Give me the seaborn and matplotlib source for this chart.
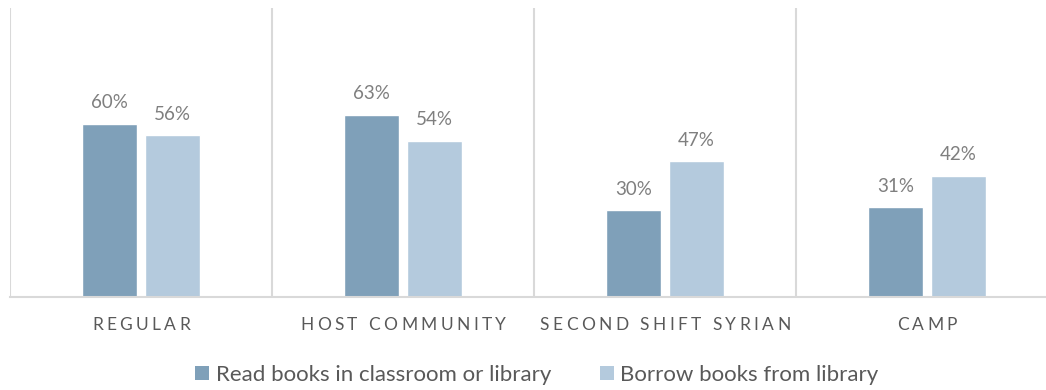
import matplotlib
matplotlib.use("Agg")
import matplotlib.pyplot as plt
from matplotlib.patches import Patch
import seaborn as sns
import pandas as pd

# Chart data
categories = ["REGULAR", "HOST COMMUNITY", "SECOND SHIFT SYRIAN", "CAMP"]
series_names = ["Read books in classroom or library", "Borrow books from library"]
read_books = [60, 63, 30, 31]
borrow_books = [56, 54, 47, 42]

colors = ["#7FA0B9", "#B4CADD"]
grid_color = "#D9D9D9"
label_color = "#7F7F7F"
text_color = "#595959"
font = "Lato"

sns.set_theme(style="white")
plt.rcParams["font.family"] = [font, "DejaVu Sans"]

df = pd.DataFrame({
    "category": categories * 2,
    "series": [series_names[0]] * 4 + [series_names[1]] * 4,
    "value": read_books + borrow_books,
})

W, H = 1046, 390
fig = plt.figure(figsize=(W / 100, H / 100), dpi=100)
left_px, right_px, top_px, bottom_px = 10, 1046, 8, 297
ax = fig.add_axes([left_px / W, (H - bottom_px) / H,
                   (right_px - left_px) / W, (bottom_px - top_px) / H])

sns.barplot(data=df, x="category", y="value", hue="series",
            palette=colors, width=0.48, gap=0.127, saturation=1,
            legend=False, ax=ax)

cat_px = 262.0
ax.set_xlim(-0.5, -0.5 + (right_px - left_px) / cat_px)
ax.set_ylim(0, 100)

# category separators and baseline
for b in [-0.5, 0.5, 1.5, 2.5]:
    ax.axvline(b, color=grid_color, lw=1.5, zorder=0)
for s in ["left", "right", "top"]:
    ax.spines[s].set_visible(False)
ax.spines["bottom"].set_color(grid_color)
ax.spines["bottom"].set_linewidth(1.5)
ax.set_yticks([])
ax.set_xticks([])
ax.set_xlabel("")
ax.set_ylabel("")

for cont in ax.containers:
    ax.bar_label(cont, labels=[f"{int(v)}%" for v in cont.datavalues],
                 padding=9, color=label_color, fontsize=13.5, family=font)

# letter-spaced category labels
renderer = fig.canvas.get_renderer()


def text_width(s, size):
    t = fig.text(0, 0, s + "|", fontsize=size, family=font)
    w = t.get_window_extent(renderer).width
    t.remove()
    t = fig.text(0, 0, "|", fontsize=size, family=font)
    w -= t.get_window_extent(renderer).width
    t.remove()
    return w


def tracked_label(xc, yc, s, size, tracking):
    offsets = [text_width(s[:i], size) + i * tracking for i in range(len(s))]
    total = text_width(s, size) + (len(s) - 1) * tracking
    x0 = xc - total / 2
    for ch, off in zip(s, offsets):
        if ch == " ":
            continue
        fig.text((x0 + off) / W, (H - yc) / H, ch, fontsize=size,
                 family=font, color=text_color, ha="left", va="center")


for i, cat in enumerate(categories):
    xc = ax.transData.transform((i, 0))[0]
    tracked_label(xc, 325, cat, 12.5, 3.4)

handles = [Patch(facecolor=c, edgecolor="none") for c in colors]
fig.legend(handles, series_names, loc="center",
           bbox_to_anchor=(537 / W, (H - 375) / H), ncol=2, frameon=False,
           fontsize=16, handlelength=0.62, handleheight=0.62,
           handletextpad=0.3, columnspacing=2.2, labelcolor=text_color,
           borderpad=0)

fig.savefig("out.png", dpi=100, facecolor="white")
